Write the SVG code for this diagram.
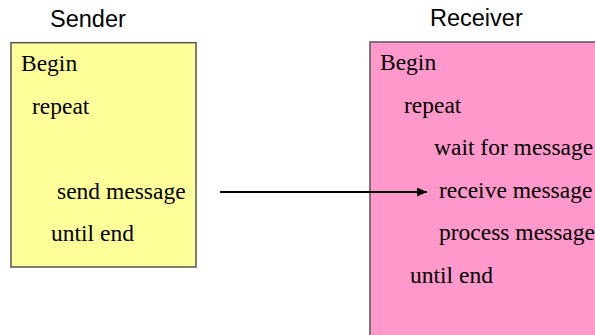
<svg xmlns="http://www.w3.org/2000/svg" width="595" height="335" viewBox="0 0 595 335">
  <style>
    .title { font-family: "Liberation Sans", Arial, sans-serif; font-size: 23.5px; fill: #000; }
    .code { font-family: "Liberation Serif", "Times New Roman", Times, serif; font-size: 23.5px; fill: #000; }
    .box { stroke: #555; stroke-width: 1.5; }
    .link { stroke: #000; stroke-width: 2; fill: none; }
  </style>
  <defs>
    <marker id="arrow" markerWidth="10" markerHeight="9" refX="10" refY="4.5" orient="auto" markerUnits="userSpaceOnUse">
      <path d="M0,0 L10,4.5 L0,9 Z" fill="#000"/>
    </marker>
  </defs>

  <!-- sending process -->
  <g id="sender">
    <text class="title" x="50" y="27">Sender</text>
    <rect class="box" x="11" y="42.7" width="185" height="224.3" fill="#FFFF99"/>
    <g class="code">
      <text x="21" y="71">Begin</text>
      <text x="32" y="113.5">repeat</text>
      <text x="57" y="198.5">send message</text>
      <text x="51" y="241">until end</text>
    </g>
  </g>

  <!-- receiving process (box runs off the page) -->
  <g id="receiver">
    <text class="title" x="430" y="26">Receiver</text>
    <rect class="box" x="370" y="42" width="240" height="310" fill="#FF99CC"/>
    <g class="code">
      <text x="380" y="70">Begin</text>
      <text x="404" y="112.5">repeat</text>
      <text x="434" y="155">wait for message</text>
      <text x="439" y="197.5">receive message</text>
      <text x="439" y="240">process message</text>
      <text x="410" y="282.5">until end</text>
    </g>
  </g>

  <g id="connectors">
    <line class="link" x1="220" y1="192" x2="427" y2="192" marker-end="url(#arrow)"/>
  </g>
</svg>
